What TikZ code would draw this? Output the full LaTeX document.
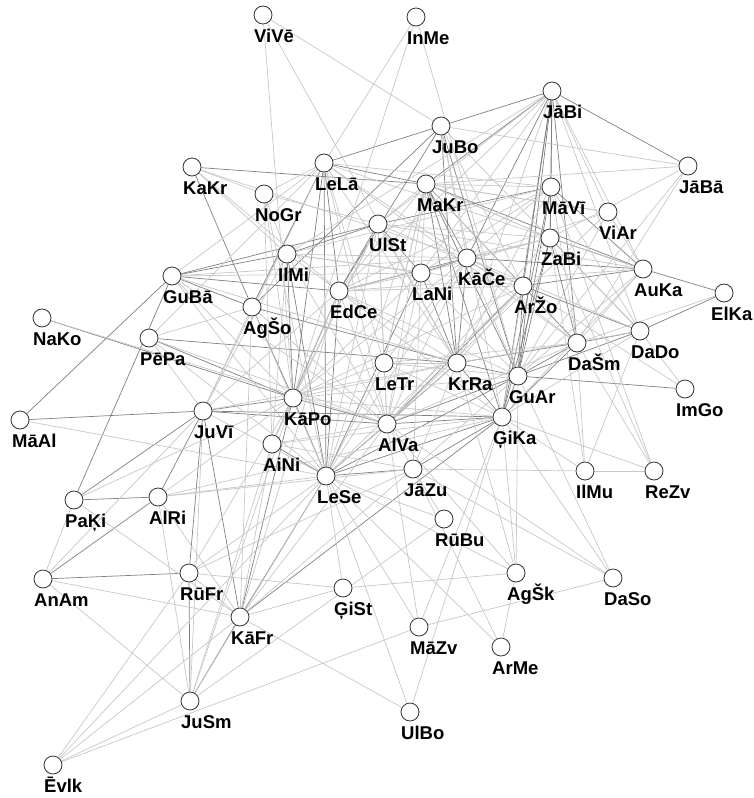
\documentclass[tikz,border=0pt]{standalone}
\usepackage{fontspec}
\setmainfont{Liberation Sans}
\usetikzlibrary{backgrounds}
\tikzset{
  pers/.style={circle,draw=black!80,fill=white,line width=0.8pt,minimum size=18pt,inner sep=0pt},
  lbl/.style={anchor=base west,inner sep=0pt,font=\fontsize{18.5}{19}\selectfont\bfseries}
}
\begin{document}
\begin{tikzpicture}[x=1pt,y=-1pt]
\useasboundingbox (0,0) rectangle (754,798);
% people
\node[pers] (vive) at (263,15) {};  \node[lbl] (vive-t) at (254,42) {ViVē};
\node[pers] (inme) at (416,17) {};  \node[lbl] (inme-t) at (407,44) {InMe};
\node[pers] (jabi) at (552,91) {};  \node[lbl] (jabi-t) at (543,118) {JāBi};
\node[pers] (jubo) at (441,126) {}; \node[lbl] (jubo-t) at (432,153) {JuBo};
\node[pers] (jaba) at (688,166) {}; \node[lbl] (jaba-t) at (679,193) {JāBā};
\node[pers] (kakr) at (192,167) {}; \node[lbl] (kakr-t) at (183,194) {KaKr};
\node[pers] (lela) at (324,163) {}; \node[lbl] (lela-t) at (315,190) {LeLā};
\node[pers] (nogr) at (264,194) {}; \node[lbl] (nogr-t) at (255,221) {NoGr};
\node[pers] (makr) at (426,184) {}; \node[lbl] (makr-t) at (417,211) {MaKr};
\node[pers] (mavi) at (551,187) {}; \node[lbl] (mavi-t) at (542,214) {MāVī};
\node[pers] (viar) at (608,212) {}; \node[lbl] (viar-t) at (599,239) {ViAr};
\node[pers] (ulst) at (378,224) {}; \node[lbl] (ulst-t) at (369,251) {UlSt};
\node[pers] (ilmi) at (287,254) {}; \node[lbl] (ilmi-t) at (278,281) {IlMi};
\node[pers] (zabi) at (550,238) {}; \node[lbl] (zabi-t) at (541,265) {ZaBi};
\node[pers] (kace) at (467,258) {}; \node[lbl] (kace-t) at (458,285) {KāČe};
\node[pers] (lani) at (421,273) {}; \node[lbl] (lani-t) at (412,300) {LaNi};
\node[pers] (auka) at (643,269) {}; \node[lbl] (auka-t) at (634,296) {AuKa};
\node[pers] (arzo) at (523,286) {}; \node[lbl] (arzo-t) at (514,313) {ArŽo};
\node[pers] (guba) at (172,276) {}; \node[lbl] (guba-t) at (163,303) {GuBā};
\node[pers] (edce) at (339,291) {}; \node[lbl] (edce-t) at (330,318) {EdCe};
\node[pers] (elka) at (724,293) {}; \node[lbl] (elka-t) at (711,320) {ElKa};
\node[pers] (agso) at (252,307) {}; \node[lbl] (agso-t) at (243,334) {AgŠo};
\node[pers] (nako) at (42,318) {};  \node[lbl] (nako-t) at (33,345) {NaKo};
\node[pers] (pepa) at (149,338) {}; \node[lbl] (pepa-t) at (140,365) {PēPa};
\node[pers] (dado) at (640,331) {}; \node[lbl] (dado-t) at (631,358) {DaDo};
\node[pers] (dasm) at (577,343) {}; \node[lbl] (dasm-t) at (568,370) {DaŠm};
\node[pers] (letr) at (384,363) {}; \node[lbl] (letr-t) at (375,390) {LeTr};
\node[pers] (krra) at (457,363) {}; \node[lbl] (krra-t) at (448,390) {KrRa};
\node[pers] (guar) at (518,376) {}; \node[lbl] (guar-t) at (509,403) {GuAr};
\node[pers] (imgo) at (685,389) {}; \node[lbl] (imgo-t) at (676,416) {ImGo};
\node[pers] (kapo) at (293,398) {}; \node[lbl] (kapo-t) at (284,425) {KāPo};
\node[pers] (juvi) at (203,411) {}; \node[lbl] (juvi-t) at (194,438) {JuVī};
\node[pers] (maal) at (20,420) {};  \node[lbl] (maal-t) at (12,447) {MāAl};
\node[pers] (alva) at (387,424) {}; \node[lbl] (alva-t) at (378,451) {AlVa};
\node[pers] (gika) at (502,417) {}; \node[lbl] (gika-t) at (493,444) {ĢiKa};
\node[pers] (aini) at (272,444) {}; \node[lbl] (aini-t) at (263,471) {AiNi};
\node[pers] (lese) at (326,476) {}; \node[lbl] (lese-t) at (317,503) {LeSe};
\node[pers] (jazu) at (413,469) {}; \node[lbl] (jazu-t) at (404,496) {JāZu};
\node[pers] (ilmu) at (585,471) {}; \node[lbl] (ilmu-t) at (576,498) {IlMu};
\node[pers] (rezv) at (654,471) {}; \node[lbl] (rezv-t) at (645,498) {ReZv};
\node[pers] (paki) at (74,500) {};  \node[lbl] (paki-t) at (65,527) {PaĶi};
\node[pers] (alri) at (158,497) {}; \node[lbl] (alri-t) at (149,524) {AlRi};
\node[pers] (rubu) at (444,519) {}; \node[lbl] (rubu-t) at (435,546) {RūBu};
\node[pers] (anam) at (43,579) {};  \node[lbl] (anam-t) at (34,606) {AnAm};
\node[pers] (rufr) at (189,573) {}; \node[lbl] (rufr-t) at (180,600) {RūFr};
\node[pers] (agsk) at (516,573) {}; \node[lbl] (agsk-t) at (507,600) {AgŠk};
\node[pers] (daso) at (613,578) {}; \node[lbl] (daso-t) at (604,605) {DaSo};
\node[pers] (gist) at (343,588) {}; \node[lbl] (gist-t) at (334,615) {ĢiSt};
\node[pers] (kafr) at (240,617) {}; \node[lbl] (kafr-t) at (231,644) {KāFr};
\node[pers] (mazv) at (419,627) {}; \node[lbl] (mazv-t) at (410,654) {MāZv};
\node[pers] (arme) at (501,647) {}; \node[lbl] (arme-t) at (492,674) {ArMe};
\node[pers] (jusm) at (190,701) {}; \node[lbl] (jusm-t) at (181,728) {JuSm};
\node[pers] (ulbo) at (410,712) {}; \node[lbl] (ulbo-t) at (401,739) {UlBo};
\node[pers] (evlk) at (53,765) {};  \node[lbl] (evlk-t) at (44,792) {Ēvlk};

\begin{pgfonlayer}{background}
% strong ties
\begin{scope}[every edge/.style={draw=black!50,line width=0.7pt}]
\path (jubo) edge (lela) edge (jabi) edge (krra) edge (edce) edge (agso) edge (guar);
\path (jabi) edge (jaba) edge (makr) edge (mavi) edge (zabi) edge (guar) edge (gika) edge (dasm) edge (arzo) edge (kace);
\path (lela) edge (makr) edge (kapo) edge (lese) edge (edce) edge (agso);
\path (kakr) edge (makr) edge (agso);
\path (makr) edge (auka) edge (dasm) edge (guar) edge (krra) edge (kace) edge (gika);
\path (mavi) edge (guar) edge (gika) edge (zabi) edge (auka) edge (ulst);
\path (zabi) edge (auka) edge (dasm) edge (guar) edge (gika);
\path (auka) edge (elka) edge (kace) edge (arzo);
\path (dado) edge (elka) edge (guar) edge (arzo) edge (dasm);
\path (dasm) edge (guar) edge (krra) edge (gika);
\path (guar) edge (gika) edge (krra) edge (alva) edge (lese) edge (imgo);
\path (gika) edge (krra) edge (alva) edge (jazu) edge (lese) edge (kafr) edge (juvi);
\path (krra) edge (agso) edge (pepa) edge (lani) edge (kace) edge (alva);
\path (lani) edge (ulst) edge (kace) edge (lese);
\path (kace) edge (edce);
\path (arzo) edge (guar) edge (alva);
\path (ulst) edge (ilmi) edge (guba) edge (edce);
\path (ilmi) edge (guba) edge (kapo) edge (lese);
\path (edce) edge (kapo) edge (guba) edge (lese);
\path (guba) edge (maal) edge (paki) edge (agso);
\path (kapo) edge (nako) edge (pepa) edge (juvi) edge (alva) edge (lese) edge (agso) edge (kafr);
\path (juvi) edge (maal) edge (alva) edge (rufr) edge (kafr) edge (paki);
\path (lese) edge (alva) edge (jazu) edge (aini) edge (kafr);
\path (alri) edge (paki) edge (anam) edge (juvi);
\path (anam) edge (rufr);
\path (rufr) edge (jusm);
\path (kafr) edge (jusm);
\end{scope}
% weak ties
\begin{scope}[every edge/.style={draw=black!22,line width=0.7pt}]
\path (vive) edge (jubo) edge (kapo) edge (krra);
\path (inme) edge (lela) edge (kapo) edge (guar);
\path (jabi) edge (viar) edge (krra) edge (lani) edge (auka) edge (edce) edge (ulst) edge (dado) edge (ilmi);
\path (jaba) edge (makr) edge (dasm) edge (guar) edge (zabi);
\path (jubo) edge (jaba) edge (arzo) edge (gika) edge (kace) edge (dado);
\path (kakr) edge (kace) edge (ilmi) edge (edce);
\path (lela) edge (nogr) edge (guba) edge (alva) edge (juvi) edge (kace) edge (krra) edge (mavi) edge (dasm) edge (pepa);
\path (nogr) edge (ulst) edge (kapo) edge (lese) edge (ilmi) edge (aini) edge (kakr);
\path (makr) edge (ulst) edge (edce) edge (alva) edge (viar) edge (zabi) edge (arzo) edge (lani) edge (letr) edge (lese);
\path (mavi) edge (lani) edge (krra) edge (edce) edge (ilmi) edge (dasm) edge (makr) edge (kace) edge (rezv);
\path (viar) edge (auka) edge (makr) edge (kace) edge (guar) edge (alva);
\path (zabi) edge (makr) edge (lani) edge (kace) edge (ulst) edge (edce) edge (dado) edge (alva) edge (ilmu) edge (rezv);
\path (auka) edge (guar) edge (dasm) edge (gika) edge (edce) edge (lela) edge (ulst);
\path (elka) edge (dasm);
\path (dado) edge (imgo) edge (ilmu) edge (zabi) edge (kace) edge (krra) edge (gika) edge (mavi);
\path (dasm) edge (ilmu) edge (rezv) edge (alva) edge (kace) edge (letr);
\path (guar) edge (kace) edge (kapo) edge (agsk) edge (daso) edge (letr) edge (lani) edge (jazu) edge (edce);
\path (gika) edge (arzo) edge (ulbo) edge (daso) edge (ilmu) edge (rezv) edge (agsk) edge (mazv) edge (alri) edge (aini) edge (letr) edge (kapo);
\path (krra) edge (ulst) edge (edce) edge (lese) edge (kapo) edge (jazu) edge (agsk) edge (letr);
\path (letr) edge (ulst) edge (lela) edge (kace) edge (kapo) edge (alva) edge (lese) edge (makr);
\path (lani) edge (jazu) edge (alva) edge (kapo) edge (edce) edge (ilmi) edge (guba);
\path (kace) edge (ilmi) edge (guba) edge (arzo) edge (alva) edge (lese) edge (kapo);
\path (arzo) edge (krra) edge (lese) edge (kapo) edge (edce) edge (ulst) edge (ilmi) edge (imgo);
\path (ulst) edge (kapo) edge (lese) edge (alva) edge (aini);
\path (ilmi) edge (edce) edge (aini) edge (alva) edge (juvi);
\path (edce) edge (aini) edge (juvi) edge (alva) edge (kafr) edge (gika);
\path (agso) edge (lese) edge (juvi) edge (pepa) edge (kafr) edge (alva);
\path (guba) edge (kapo) edge (lese) edge (alva) edge (krra);
\path (nako) edge (alva);
\path (pepa) edge (lese) edge (alva) edge (juvi);
\path (maal) edge (lese);
\path (kapo) edge (aini) edge (rufr) edge (alri) edge (jusm);
\path (juvi) edge (anam) edge (jusm) edge (krra) edge (lese);
\path (alva) edge (jazu) edge (aini) edge (kafr) edge (mazv) edge (daso) edge (agsk);
\path (lese) edge (alri) edge (rufr) edge (jusm) edge (gist) edge (mazv) edge (arme) edge (ulbo) edge (rubu) edge (agsk) edge (evlk);
\path (jazu) edge (rubu) edge (kafr) edge (aini) edge (arme) edge (daso) edge (ilmu) edge (alri) edge (rufr);
\path (aini) edge (kafr) edge (jusm);
\path (ilmu) edge (rezv);
\path (rubu) edge (jusm);
\path (agsk) edge (arme) edge (gist);
\path (daso) edge (mazv);
\path (mazv) edge (evlk);
\path (kafr) edge (alri) edge (paki) edge (anam) edge (evlk) edge (ulbo) edge (gist) edge (rufr);
\path (jusm) edge (evlk) edge (anam) edge (alri);
\path (evlk) edge (rufr);
\path (anam) edge (paki);
\path (paki) edge (kapo);
\path (rufr) edge (gist);
\end{scope}
\end{pgfonlayer}
\end{tikzpicture}
\end{document}
